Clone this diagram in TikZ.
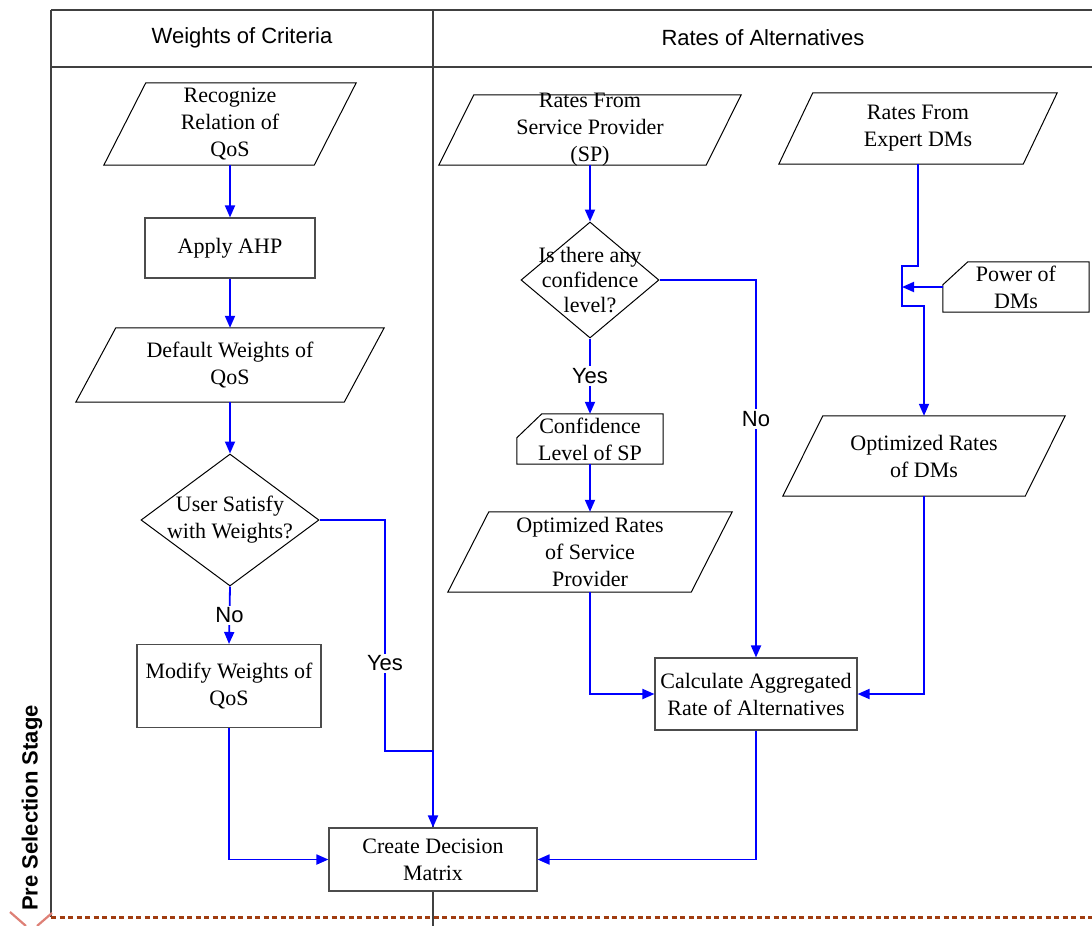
\documentclass[tikz,border=0pt]{standalone}
\usepackage{fontspec}
\setmainfont{Liberation Serif}
\setsansfont{Liberation Sans}
\usetikzlibrary{calc,shapes.geometric,arrows.meta}

\definecolor{stageline}{RGB}{160,60,16}
\definecolor{markred}{RGB}{222,128,118}

% slanted data box: name, x, y, width, height, slant, text
\newcommand{\slantbox}[7]{%
  \node[holder, minimum width=#4pt, minimum height=#5pt] (#1) at (#2,#3) {};
  \draw[shp] (#1.south west) -- ($(#1.north west)+(#6,0)$) -- (#1.north east)
    -- ($(#1.south east)-(#6,0)$) -- cycle;
  \node (#1-txt) at (#1) {#7};}

% card box with clipped top-left corner: name, x, y, width, height, cut x, cut y, text
\newcommand{\cardbox}[8]{%
  \node[holder, minimum width=#4pt, minimum height=#5pt] (#1) at (#2,#3) {};
  \draw[shp] (#1.south west) -- ($(#1.north west)+(0,#7)$) -- ($(#1.north west)+(#6,0)$)
    -- (#1.north east) -- (#1.south east) -- cycle;
  \node (#1-txt) at (#1) {#8};}

\begin{document}
\begin{tikzpicture}[x=1pt,y=-1pt,
  every node/.style={font=\fontsize{22}{27}\selectfont, align=center, inner sep=0pt},
  procbox/.style={rectangle, draw=black!70, fill=white, line width=1.1pt},
  holder/.style={rectangle, draw=none},
  shp/.style={draw=black, line width=1pt},
  decide/.style={diamond, draw=black, line width=1pt, inner sep=0pt},
  flow/.style={draw=blue, line width=1.8pt, -{Triangle[length=12pt,width=10pt]}},
  lbl/.style={fill=white, font=\sffamily\fontsize{22}{27}\selectfont, inner sep=2pt},
  lane/.style={draw=black!75, line width=1.3pt},
  headtext/.style={font=\sffamily\fontsize{22}{27}\selectfont},
]
\useasboundingbox (0,0) rectangle (1092,926);

% swimlane frame
\draw[lane] (51,10) -- (1092,10);
\draw[lane] (51,67) -- (1092,67);
\draw[lane] (51,10) -- (51,917);
\draw[lane] (433,10) -- (433,926);
\node[headtext] (h1) at (242,38) {Weights of Criteria};
\node[headtext] (h2) at (763,38) {Rates of Alternatives};
\node[rotate=90, font=\sffamily\bfseries\fontsize{22}{27}\selectfont] (stage) at (32,808) {Pre Selection Stage};

% stage boundary
\draw[stageline, line width=3pt, dash pattern=on 5pt off 3.5pt] (51,917) -- (1092,917);
\draw[markred, line width=2.2pt] (10,912) -- (26,926);
\draw[markred, line width=2.2pt] (52,913) -- (37,926);

% weights of criteria
\slantbox{rec}{230}{124}{252}{82}{42}{Recognize\\Relation of\\QoS}
\node[procbox, minimum width=170pt, minimum height=60pt] (ahp) at (230,248) {Apply AHP};
\slantbox{dw}{230}{365}{308}{74}{40}{Default Weights of\\QoS}
\node[decide, minimum width=178pt, minimum height=132pt] (us) at (230,520) {};
\node (us-txt) at (us) {User Satisfy\\with Weights?};
\node[procbox, minimum width=184pt, minimum height=83pt] (mod) at (229,686) {Modify Weights of\\QoS};
\node[procbox, minimum width=208pt, minimum height=63pt] (cdm) at (433,859.5) {Create Decision\\Matrix};

% rates of alternatives
\slantbox{sp}{590}{130}{302}{70}{35}{Rates From\\Service Provider\\(SP)}
\node[decide, minimum width=138pt, minimum height=116pt] (cd) at (590,280) {};
\node (cd-txt) at (cd) {Is there any\\[-2pt]confidence\\[-2pt]level?};
\cardbox{cl}{590}{439}{146}{50}{25}{24}{Confidence\\Level of SP}
\slantbox{osp}{590}{552}{284}{80}{41}{Optimized Rates\\of Service\\Provider}
\slantbox{exp}{918}{128.5}{278}{71}{34}{Rates From\\Expert DMs}
\cardbox{pw}{1016}{287}{146}{50}{25}{23}{Power of\\DMs}
\slantbox{odm}{924}{456}{282}{80}{40}{Optimized Rates\\of DMs}
\node[procbox, minimum width=202pt, minimum height=72pt] (calc) at (756,694) {Calculate Aggregated\\Rate of Alternatives};

% connectors
\draw[flow] (rec.south) -- (ahp.north);
\draw[flow] (ahp.south) -- (dw.north);
\draw[flow] (dw.south) -- (us.north);
\draw[flow] (us.south) -- node[lbl] {No} (mod.north);
\draw[flow] (us.east) -- (385,520) -- node[lbl, pos=0.62] {Yes} (385,751) -- (433,751) -- (cdm.north);
\draw[flow] (mod.south) |- (cdm.west);

\draw[flow] (sp.south) -- (cd.north);
\draw[flow] (cd.south) -- node[lbl] {Yes} (cl.north);
\draw[flow] (cd.east) -| node[lbl, pos=0.684] {No} (calc.north);
\draw[flow] (cl.south) -- (osp.north);
\draw[flow] (osp.south) |- (calc.west);

\draw[flow] (exp.south) -- (918,266) -- (902,266) -- (902,306) -- (924,306) -- (odm.north);
\coordinate (tap) at (902,287);
\draw[flow] (pw.west) -- (tap);
\draw[flow] (odm.south) |- (calc.east);
\draw[flow] (calc.south) |- (cdm.east);
\end{tikzpicture}
\end{document}
